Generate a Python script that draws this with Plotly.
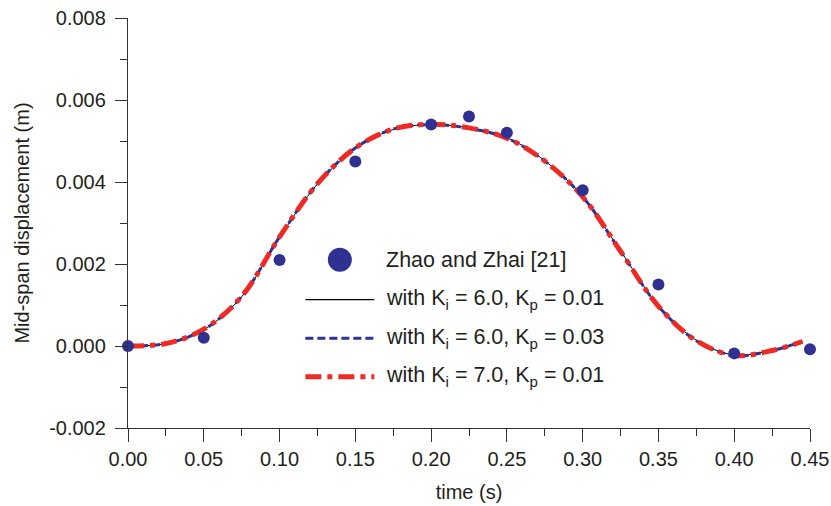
import plotly.graph_objects as go

# ---------------- data ----------------
t_ref = [0.00, 0.05, 0.10, 0.15, 0.20, 0.225, 0.25, 0.30, 0.35, 0.40, 0.45]
y_ref = [0.0000, 0.0002, 0.0021, 0.0045, 0.0054, 0.0056, 0.0052, 0.0038, 0.0015, -0.00018, -0.00008]

t_sim = [0.000, 0.025, 0.050, 0.075, 0.100, 0.125, 0.150, 0.175, 0.200, 0.225,
         0.250, 0.275, 0.300, 0.325, 0.350, 0.375, 0.400, 0.425, 0.445]
y_k6_p001 = [0.0, 0.00006, 0.00040, 0.00120, 0.00265, 0.00395, 0.00482, 0.00528, 0.00540, 0.00532,
             0.00508, 0.00452, 0.00365, 0.00232, 0.00098, 0.00014, -0.00022, -0.00010, 0.00012]
y_k6_p003 = [0.0, 0.00006, 0.00040, 0.00121, 0.00266, 0.00396, 0.00483, 0.00529, 0.00540, 0.00531,
             0.00507, 0.00451, 0.00364, 0.00231, 0.00097, 0.00013, -0.00023, -0.00011, 0.00011]
y_k7_p001 = [0.0, 0.00006, 0.00041, 0.00121, 0.00266, 0.00396, 0.00483, 0.00529, 0.00541, 0.00532,
             0.00507, 0.00451, 0.00364, 0.00231, 0.00097, 0.00013, -0.00023, -0.00011, 0.00011]

x_ticks = [0.00, 0.05, 0.10, 0.15, 0.20, 0.25, 0.30, 0.35, 0.40, 0.45]
x_labels = ["0.00", "0.05", "0.10", "0.15", "0.20", "0.25", "0.30", "0.35", "0.40", "0.45"]
y_ticks = [-0.002, 0.000, 0.002, 0.004, 0.006, 0.008]
y_labels = ["-0.002", "0.000", "0.002", "0.004", "0.006", "0.008"]

legend_names = ["Zhao and Zhai [21]",
                "with K<sub>i</sub> = 6.0, K<sub>p</sub> = 0.01",
                "with K<sub>i</sub> = 6.0, K<sub>p</sub> = 0.03",
                "with K<sub>i</sub> = 7.0, K<sub>p</sub> = 0.01"]

# ---------------- styles ----------------
NAVY = "#2E3192"
RED = "#EE2A24"
TXT = "#231F20"
AX = "#333333"
FONT = "Liberation Sans, Arial, sans-serif"
RED_DASH = "16px,6px,5px,6px"
BLUE_DASH = "8px,4px"

fig = go.Figure()
fig.add_trace(go.Scatter(x=t_sim, y=y_k6_p001, mode="lines", line=dict(color="black", width=1, shape="spline"),
                         showlegend=False, cliponaxis=False))
fig.add_trace(go.Scatter(x=t_sim, y=y_k6_p003, mode="lines",
                         line=dict(color=NAVY, width=3, dash=BLUE_DASH, shape="spline"),
                         showlegend=False, cliponaxis=False))
fig.add_trace(go.Scatter(x=t_sim, y=y_k7_p001, mode="lines",
                         line=dict(color=RED, width=5, dash=RED_DASH, shape="spline"),
                         showlegend=False, cliponaxis=False))
fig.add_trace(go.Scatter(x=t_ref, y=y_ref, mode="markers", marker=dict(color=NAVY, size=12),
                         showlegend=False, cliponaxis=False))

# -------- manual legend (in paper coords) --------
L, R, T, B = 127.5, 810.0, 18.3, 428.3
def px(xp):
    return (xp - L) / (R - L)
def py(yp):
    return (B - yp) / (B - T)

rows_y = [260, 300, 338.5, 377]
shapes = []
shapes.append(dict(type="circle", xref="paper", yref="paper",
                   x0=px(339.5 - 12), x1=px(339.5 + 12), y0=py(rows_y[0] + 12), y1=py(rows_y[0] - 12),
                   fillcolor=NAVY, line=dict(width=0)))
line_styles = [dict(color="black", width=1.2),
               dict(color=NAVY, width=3, dash=BLUE_DASH),
               dict(color=RED, width=5, dash=RED_DASH)]
for i, st in enumerate(line_styles):
    shapes.append(dict(type="line", xref="paper", yref="paper",
                       x0=px(305), x1=px(374), y0=py(rows_y[i + 1]), y1=py(rows_y[i + 1]), line=st))

annotations = []
for i, name in enumerate(legend_names):
    annotations.append(dict(text=name, xref="paper", yref="paper", x=px(384), y=py(rows_y[i]),
                            xanchor="left", yanchor="middle", showarrow=False,
                            font=dict(family=FONT, size=21.5, color=TXT)))

fig.update_layout(
    width=831, height=506,
    margin=dict(l=127.5, r=21, t=18.3, b=77.7, autoexpand=False),
    paper_bgcolor="white", plot_bgcolor="white",
    font=dict(family=FONT, size=20, color=TXT),
    shapes=shapes, annotations=annotations,
    showlegend=False,
)
fig.update_xaxes(
    range=[0, 0.45], showgrid=False, zeroline=False, automargin=False,
    showline=True, linecolor=AX, linewidth=1.3,
    tickmode="array", tickvals=x_ticks, ticktext=x_labels,
    ticks="outside", ticklen=13, tickwidth=1.3, tickcolor=AX,
    tickfont=dict(family=FONT, size=20, color=TXT),
    minor=dict(tickmode="linear", tick0=0, dtick=0.025, ticks="outside", ticklen=7, tickwidth=1.3, tickcolor=AX),
    title=dict(text="time (s)", font=dict(family=FONT, size=20, color=TXT), standoff=15),
)
fig.update_yaxes(
    range=[-0.002, 0.008], showgrid=False, zeroline=False, automargin=False,
    showline=True, linecolor=AX, linewidth=1.3,
    tickmode="array", tickvals=y_ticks, ticktext=y_labels,
    ticks="outside", ticklen=12, tickwidth=1.3, tickcolor=AX, ticklabelstandoff=5,
    tickfont=dict(family=FONT, size=20, color=TXT),
    minor=dict(tickmode="linear", tick0=0, dtick=0.001, ticks="outside", ticklen=7, tickwidth=1.3, tickcolor=AX),
    title=dict(text="Mid-span displacement (m)", font=dict(family=FONT, size=20, color=TXT), standoff=14),
)

fig.write_html("out.html")
